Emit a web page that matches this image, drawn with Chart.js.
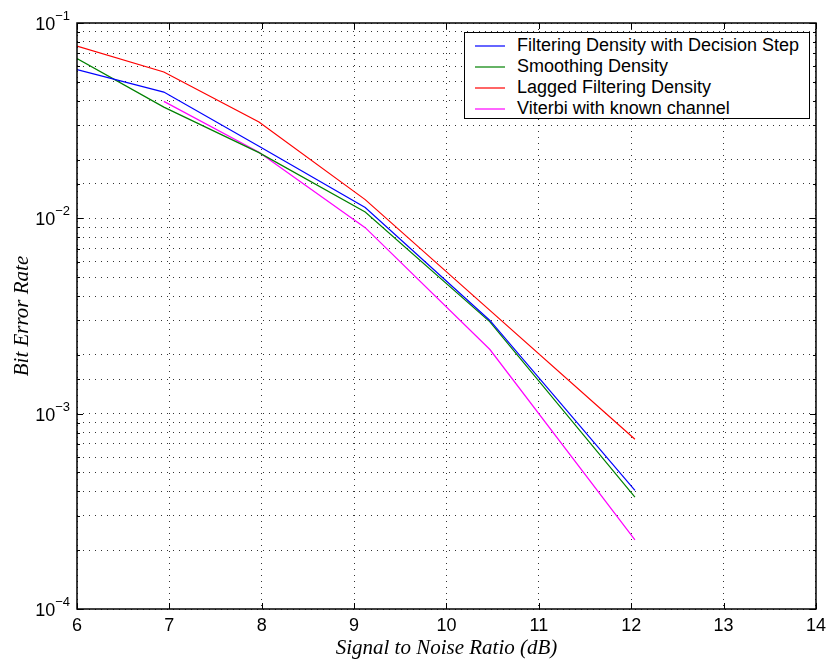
<!DOCTYPE html>
<html>
<head>
<meta charset="utf-8">
<script src="https://cdn.jsdelivr.net/npm/chart.js@4/dist/chart.umd.min.js"></script>
<style>
  html, body { margin: 0; padding: 0; background: #fff; }
  #wrap { position: relative; width: 832px; height: 662px; }
  #legend {
    position: absolute; left: 464px; top: 32px; width: 344px; height: 85px;
    border: 1.5px solid #000; background: #fff; box-sizing: content-box;
    font-family: "Liberation Sans", Arial, sans-serif; font-size: 18px; color: #000;
  }
  .item { position: absolute; left: 0; height: 21px; line-height: 21px; white-space: nowrap; }
  .item .sw { position: absolute; left: 10px; top: 10px; width: 30px; height: 2px; }
  .item .tx { position: absolute; left: 52px; top: 0; }
</style>
</head>
<body>
<div id="wrap">
  <canvas id="c" width="832" height="662"></canvas>
  <div id="legend"></div>
</div>
<script>
// ---- data ----
const snr = [6, 6.94, 7.97, 9.12, 10.47, 12.04];
const filteringDecision = [0.0577, 0.0443, 0.0234, 0.01135, 0.00300, 0.000405];
const smoothing = [0.0657, 0.0371, 0.0217, 0.01077, 0.00295, 0.000374];
const laggedFiltering = [0.0762, 0.0561, 0.0311, 0.01247, 0.00338, 0.00074];
const viterbiKnown = [null, 0.0397, 0.0218, 0.00896, 0.00213, 0.000226];
const seriesNames = ["Filtering Density with Decision Step", "Smoothing Density", "Lagged Filtering Density", "Viterbi with known channel"];
const seriesColors = ["#0000ff", "#008000", "#ff0000", "#ff00ff"];
const xTicks = [6, 7, 8, 9, 10, 11, 12, 13, 14];
const yDecades = [-1, -2, -3, -4];

function pts(ys) {
  const out = [];
  ys.forEach((y, i) => { if (y !== null) out.push({ x: snr[i], y: y }); });
  return out;
}
const allSeries = [filteringDecision, smoothing, laggedFiltering, viterbiKnown];

const frame = {
  id: 'frame',
  afterDraw(chart) {
    const { ctx, chartArea: a, scales } = chart;
    ctx.save();
    ctx.strokeStyle = '#000';
    ctx.lineWidth = 1;
    ctx.beginPath();
    xTicks.forEach(v => {
      const px = Math.round(scales.x.getPixelForValue(v)) + 0.5;
      ctx.moveTo(px, a.bottom); ctx.lineTo(px, a.bottom - 6);
      ctx.moveTo(px, a.top); ctx.lineTo(px, a.top + 6);
    });
    scales.y.ticks.forEach(t => {
      const py = Math.round(scales.y.getPixelForValue(t.value)) + 0.5;
      const len = t.major ? 6 : 3;
      ctx.moveTo(a.left, py); ctx.lineTo(a.left + len, py);
      ctx.moveTo(a.right, py); ctx.lineTo(a.right - len, py);
    });
    ctx.stroke();
    ctx.lineWidth = 1.5;
    ctx.strokeRect(a.left, a.top, a.right - a.left, a.bottom - a.top);
    // y decade labels with superscript exponent
    ctx.fillStyle = '#000';
    ctx.textAlign = 'left';
    ctx.textBaseline = 'alphabetic';
    yDecades.forEach(e => {
      const py = scales.y.getPixelForValue(Math.pow(10, e));
      const base = '10', exp = '\u2212' + Math.abs(e);
      ctx.font = '18px "Liberation Sans", Arial, sans-serif';
      const wb = ctx.measureText(base).width;
      ctx.font = '13px "Liberation Sans", Arial, sans-serif';
      const we = ctx.measureText(exp).width;
      const right = a.left - 7;
      const x0 = right - we - wb;
      ctx.font = '18px "Liberation Sans", Arial, sans-serif';
      ctx.fillText(base, x0, py + 7);
      ctx.font = '13px "Liberation Sans", Arial, sans-serif';
      ctx.fillText(exp, x0 + wb, py - 3);
    });
    ctx.restore();
  }
};

const chart = new Chart(document.getElementById('c'), {
  type: 'line',
  data: {
    datasets: allSeries.map((s, i) => ({
      label: seriesNames[i],
      data: pts(s),
      borderColor: seriesColors[i],
      backgroundColor: seriesColors[i],
      borderWidth: 1.2,
      pointRadius: 0,
      tension: 0,
      fill: false
    }))
  },
  options: {
    responsive: false,
    animation: false,
    devicePixelRatio: 1,
    layout: { padding: { left: 0, right: 14, top: 23, bottom: 0 } },
    plugins: { legend: { display: false }, tooltip: { enabled: false } },
    scales: {
      x: {
        type: 'linear', min: 6, max: 14,
        afterBuildTicks: (s) => { s.ticks = xTicks.map(v => ({ value: v })); },
        afterFit: (s) => { s.height = 53; },
        ticks: { color: '#000', padding: 6, font: { family: 'Liberation Sans, Arial', size: 18 } },
        grid: { color: 'rgba(0,0,0,0.8)', lineWidth: 1, drawTicks: false, tickLength: 0 },
        border: { display: false, dash: [1, 5] },
        title: { display: true, text: 'Signal to Noise Ratio (dB)', color: '#000', padding: { top: 0, bottom: 1 },
                 font: { family: 'Liberation Serif, Times New Roman', style: 'italic', size: 21 } }
      },
      y: {
        type: 'logarithmic', min: 1e-4, max: 1e-1,
        afterFit: (s) => { s.width = 77; },
        ticks: {
          autoSkip: false, color: 'rgba(0,0,0,0)', padding: 5,
          font: { family: 'Liberation Sans, Arial', size: 18 },
          callback: function (v) {
            const e = Math.log10(v);
            if (Math.abs(e - Math.round(e)) < 1e-9) return '10^' + Math.round(e);
            return '';
          }
        },
        grid: { color: 'rgba(0,0,0,0.8)', lineWidth: 1, drawTicks: false, tickLength: 0 },
        border: { display: false, dash: [1, 5] },
        title: { display: true, text: 'Bit Error Rate', color: '#000', padding: { top: 10, bottom: 0 },
                 font: { family: 'Liberation Serif, Times New Roman', style: 'italic', size: 21 } }
      }
    }
  },
  plugins: [frame]
});

const lg = document.getElementById('legend');
seriesNames.forEach((n, i) => {
  const d = document.createElement('div');
  d.className = 'item';
  d.style.top = (2 + i * 21) + 'px';
  d.style.width = '100%';
  d.innerHTML = '<span class="sw" style="background:' + seriesColors[i] + ';opacity:0.6"></span><span class="tx"></span>';
  d.querySelector('.tx').textContent = n;
  lg.appendChild(d);
});
</script>
</body>
</html>
